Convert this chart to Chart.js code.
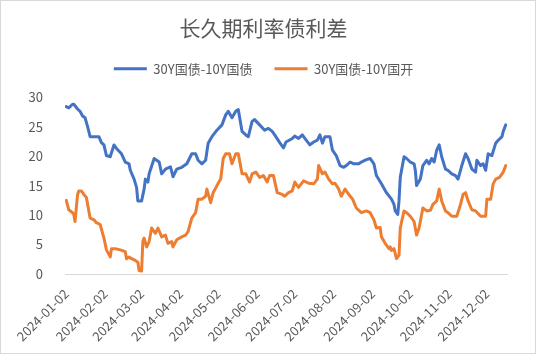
<!DOCTYPE html>
<html>
<head>
<meta charset="utf-8">
<script src="https://cdn.jsdelivr.net/npm/chart.js@4.4.1/dist/chart.umd.min.js"></script>
<style>
  html, body { margin: 0; padding: 0; background: #fff; }
  #wrap { width: 536px; height: 354px; position: relative; }
</style>
</head>
<body>
<div id="wrap"><canvas id="spreadChart" width="536" height="354"></canvas></div>
<script>
// 长久期利率债利差 — x = days after 2024-01-02
const tickDays   = [0, 31, 60, 91, 121, 152, 182, 213, 244, 274, 305, 335];
const tickLabels = ['2024-01-02','2024-02-02','2024-03-02','2024-04-02','2024-05-02','2024-06-02',
                    '2024-07-02','2024-08-02','2024-09-02','2024-10-02','2024-11-02','2024-12-02'];

// 30Y国债-10Y国债
const govDays = [0,2,5,6,9,11,13,15,17,19,22,26,28,30,32,35,38,40,44,47,50,51,54,56,57,60,62,63,65,66,
  70,72,74,76,79,83,85,88,92,96,100,103,105,108,111,113,116,120,124,127,129,132,135,137,140,143,145,148,150,154,
  158,161,164,166,170,173,175,180,182,185,188,190,194,197,200,202,204,206,210,212,215,218,221,223,226,229,233,235,239,242,
  245,247,251,255,259,261,262,264,265,266,269,271,274,277,278,279,282,284,287,289,291,293,295,297,299,302,304,307,310,312,
  315,318,320,323,326,327,330,332,334,336,339,342,344,347,348,350];
const govSpread = [28.4,28.2,28.8,28.8,28.0,27.6,26.8,26.5,25.0,23.3,23.3,23.3,22.3,21.9,20.1,19.9,21.9,21.3,20.4,19.0,18.7,17.6,16.1,14.7,12.4,12.4,14.4,16.1,15.6,17.0,
  19.6,19.3,19.0,17.0,17.8,18.2,16.5,17.8,18.1,18.7,20.4,20.4,19.3,18.7,19.3,22.2,23.3,24.4,25.3,27.0,27.6,26.5,27.6,27.9,24.2,23.6,23.3,25.9,26.2,25.3,
  24.4,24.7,24.2,23.6,22.3,21.4,22.4,23.0,23.4,23.0,23.6,23.0,21.9,22.4,22.7,23.6,22.2,23.3,23.3,21.0,20.1,18.4,18.1,18.4,19.0,18.7,18.7,19.0,19.4,19.6,
  18.7,16.7,15.3,13.8,12.7,11.8,10.7,10.1,12.4,16.4,19.9,19.6,19.0,18.7,17.6,15.0,16.1,18.4,19.3,18.7,19.6,19.0,21.0,21.9,19.9,17.8,17.6,17.0,16.7,16.1,
  18.4,20.4,19.6,17.8,17.3,19.3,18.4,18.7,17.6,20.4,20.1,22.2,22.7,23.3,24.2,25.3];

// 30Y国债-10Y国开
const cdbDays = [0,2,5,6,7,9,10,12,14,16,19,22,24,27,30,32,35,36,39,43,47,48,50,52,55,57,58,60,61,62,
  64,66,68,71,73,76,79,81,84,85,88,92,95,97,100,103,105,108,111,112,115,117,120,123,125,127,130,132,135,137,
  140,143,146,148,151,154,157,160,162,165,168,172,174,177,180,182,185,189,193,197,200,201,204,206,209,212,214,217,219,222,
  225,228,231,235,239,242,245,247,250,251,254,257,258,259,261,263,265,266,269,271,274,277,279,281,284,287,290,292,295,297,
  299,302,304,307,311,314,316,318,320,323,326,330,334,335,338,340,342,345,348,350];
const cdbSpread = [12.5,10.9,10.4,10.1,8.9,13.5,14.1,14.1,13.5,13.0,9.5,9.2,8.7,8.4,6.1,4.1,2.9,4.3,4.3,4.1,3.8,2.6,2.9,2.6,2.3,2.0,0.6,0.5,5.5,6.1,
  4.6,5.5,7.8,6.9,7.8,6.3,6.6,5.2,5.5,4.6,5.8,6.3,6.6,7.2,9.5,10.4,12.7,12.7,13.2,14.4,12.1,13.8,15.0,16.1,19.6,20.4,20.4,18.7,20.4,20.4,
  17.0,17.0,15.6,17.0,17.3,16.4,16.7,15.6,16.7,16.7,13.8,13.5,13.2,13.8,14.1,15.6,14.7,15.8,15.4,15.3,16.1,18.4,17.0,17.3,16.1,15.3,15.4,14.4,13.2,14.4,
  13.5,12.7,11.2,10.4,10.7,10.4,9.2,7.8,7.9,6.3,5.2,4.3,4.6,4.0,4.3,2.6,3.2,7.8,10.7,10.4,9.8,8.9,6.6,7.8,11.2,10.7,10.8,11.8,12.4,14.4,
  12.4,10.7,10.4,9.8,9.8,11.8,13.5,13.8,12.4,10.9,10.7,9.8,9.8,12.7,12.7,15.3,16.1,16.4,17.3,18.4];

const txt = '#595959';
const font = "'Noto Sans CJK SC', 'Noto Sans', sans-serif";

const frame = {
  id: 'frame',
  beforeDraw(chart) {
    const c = chart.ctx;
    c.save();
    c.fillStyle = '#fff';
    c.fillRect(0, 0, chart.width, chart.height);
    c.strokeStyle = '#d9d9d9';
    c.lineWidth = 1;
    c.strokeRect(0.5, 0.5, chart.width - 1, chart.height - 1);
    c.restore();
  }
};

new Chart(document.getElementById('spreadChart'), {
  type: 'line',
  data: {
    datasets: [
      {
        label: '30Y国债-10Y国债',
        data: govDays.map((d, i) => ({ x: d, y: govSpread[i] })),
        borderColor: '#4472C4', backgroundColor: '#4472C4',
        borderWidth: 3, pointRadius: 0, tension: 0, borderJoinStyle: 'round', borderCapStyle: 'round'
      },
      {
        label: '30Y国债-10Y国开',
        data: cdbDays.map((d, i) => ({ x: d, y: cdbSpread[i] })),
        borderColor: '#ED7D31', backgroundColor: '#ED7D31',
        borderWidth: 3, pointRadius: 0, tension: 0, borderJoinStyle: 'round', borderCapStyle: 'round'
      }
    ]
  },
  options: {
    responsive: false, animation: false,
    layout: { padding: { left: 20, right: 29, top: 0, bottom: 0 } },
    plugins: {
      title: {
        display: true, text: '长久期利率债利差', color: txt,
        font: { family: font, size: 21, weight: 'normal' },
        padding: { top: 15, bottom: 0 }
      },
      subtitle: { display: true, text: '', weight: 500, font: { size: 10 }, padding: 0 },
      legend: {
        position: 'top',
        labels: {
          color: txt, font: { family: font, size: 13 },
          usePointStyle: true, pointStyle: 'line', pointStyleWidth: 33, padding: 22
        }
      },
      tooltip: { enabled: false }
    },
    scales: {
      x: {
        type: 'linear', min: -1, max: 351,
        grid: { display: false },
        border: { color: '#d9d9d9', width: 1 },
        afterBuildTicks: axis => { axis.ticks = tickDays.map(v => ({ value: v })); },
        afterFit: s => { s.height = 80; },
        ticks: {
          autoSkip: false, minRotation: 45, maxRotation: 45, color: txt,
          font: { family: font, size: 13 }, padding: 4,
          callback: v => tickLabels[tickDays.indexOf(v)]
        }
      },
      y: {
        min: 0, max: 30,
        grid: { display: false },
        border: { display: false },
        afterFit: s => { s.width = 45; },
        ticks: { stepSize: 5, color: txt, font: { family: font, size: 13 }, padding: 14 }
      }
    }
  },
  plugins: [frame]
});
</script>
</body>
</html>
